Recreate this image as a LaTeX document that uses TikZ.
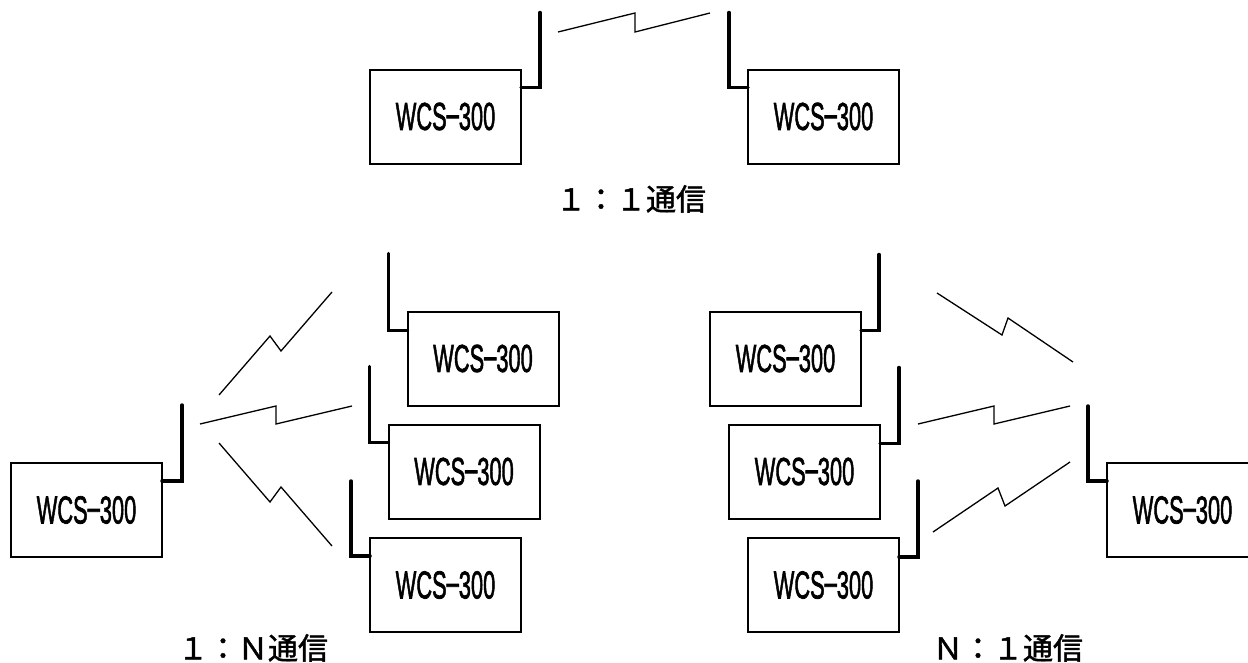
\documentclass[tikz,border=0pt]{standalone}
\usepackage{graphicx}
\usepackage{fontspec}
\usetikzlibrary{calc}
\newfontfamily\modelfont[FakeBold=2]{Liberation Sans}
\newfontfamily\jpfont[FakeBold=1.5]{Noto Sans CJK JP}
% model name printed in every unit, set narrow like a half-width gothic
\newcommand\modelname{\scalebox{0.56}[1]{WCS\raisebox{0.08em}{–}300}\hspace{7pt}}
\begin{document}
\begin{tikzpicture}[x=1pt,y=-1pt,
  unit/.style={draw, line width=2pt, minimum width=151pt, minimum height=94pt,
    inner sep=0pt, outer sep=0pt, font=\modelfont\fontsize{39}{39}\selectfont},
  antenna/.style={line width=3.5pt, line cap=round, line join=miter},
  bolt/.style={line width=1.3pt, line join=miter},
  caption/.style={inner sep=0pt, font=\jpfont\fontsize{30}{30}\selectfont}]
\useasboundingbox (0,0) rectangle (1248,662);
\fill[white] (0,0) rectangle (1248,662);
\clip (0,0) rectangle (1248,662);

% ---- 1:1 link ----
\node[unit] (T1) at (445.5,116.5) {\modelname};
\node[unit] (T2) at (823.5,116.5) {\modelname};
\draw[antenna] ($(T1.north east)+(0,18)$) -| ++(19,-75);
\draw[antenna] ($(T2.north west)+(0,18)$) -| ++(-19,-75);
\coordinate (t0) at (558,32);
\coordinate (t1) at (710,13);
\draw[bolt] (t0) -- (635,13) -- (635,32) -- (t1);
\node[caption] (cap1) at (631,199) {１：１通信};

% ---- 1:N link ----
\node[unit] (L0) at (86.5,510) {\modelname};
\node[unit] (L1) at (483,358.5) {\modelname};
\node[unit] (L2) at (464,471.5) {\modelname};
\node[unit] (L3) at (445.5,585) {\modelname};
\draw[antenna] ($(L0.north east)+(0,18)$) -| ++(20,-76);
\draw[antenna] ($(L1.north west)+(0,19)$) -| ++(-19,-77);
\draw[antenna] ($(L2.north west)+(0,18)$) -| ++(-19,-76);
\draw[antenna] ($(L3.north west)+(0,18)$) -| ++(-19,-75);
\coordinate (a0) at (219,395);
\coordinate (a1) at (332,292);
\coordinate (b0) at (200,424);
\coordinate (b1) at (352,406);
\coordinate (c0) at (219,443);
\coordinate (c1) at (332,546);
\draw[bolt] (a0) -- (270,336) -- (281,351) -- (a1);
\draw[bolt] (b0) -- (276,406) -- (276,424) -- (b1);
\draw[bolt] (c0) -- (270,502) -- (281,487) -- (c1);
\node[caption] (cap2) at (253,648) {１：Ｎ通信};

% ---- N:1 link ----
\node[unit] (RA) at (785.5,358.5) {\modelname};
\node[unit] (RB) at (804.5,471.5) {\modelname};
\node[unit] (RC) at (823.5,585) {\modelname};
\node[unit] (RD) at (1182.5,510) {\modelname};
\draw[antenna] ($(RA.north east)+(0,19)$) -| ++(18,-76);
\draw[antenna] ($(RB.north east)+(0,19)$) -| ++(19,-76);
\draw[antenna] ($(RC.north east)+(0,19)$) -| ++(19,-76);
\draw[antenna] ($(RD.north west)+(0,18)$) -| ++(-19,-75);
\coordinate (d0) at (937,293);
\coordinate (d1) at (1073,362);
\coordinate (e0) at (918,424);
\coordinate (e1) at (1070,406);
\coordinate (f0) at (933,532);
\coordinate (f1) at (1070,462);
\draw[bolt] (d0) -- (1002,335) -- (1008,318) -- (d1);
\draw[bolt] (e0) -- (994,406) -- (994,424) -- (e1);
\draw[bolt] (f0) -- (998,488) -- (1005,506) -- (f1);
\node[caption] (cap3) at (1008,648) {Ｎ：１通信};
\end{tikzpicture}
\end{document}
